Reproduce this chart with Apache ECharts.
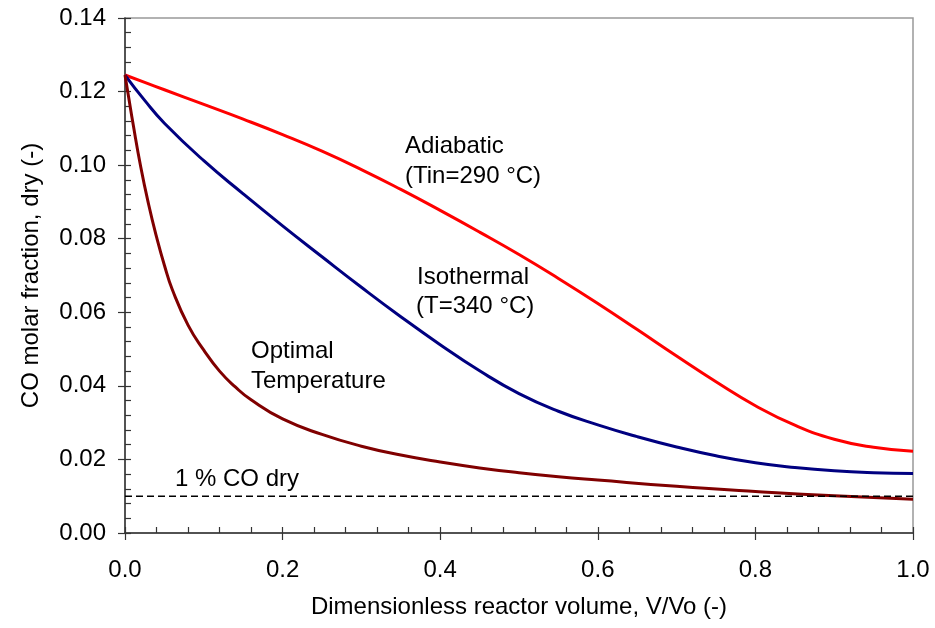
<!DOCTYPE html>
<html>
<head>
<meta charset="utf-8">
<script src="https://cdn.jsdelivr.net/npm/echarts@6/dist/echarts.min.js"></script>
<style>html,body{margin:0;padding:0;background:#fff;}#c{width:935px;height:628px;}</style>
</head>
<body>
<div id="c"></div>
<script>
// ---- data ----
const commonX      = [0, 0.025, 0.05, 0.1, 0.15, 0.2, 0.25, 0.3, 0.35, 0.4, 0.45, 0.5, 0.55, 0.6, 0.65, 0.7, 0.75, 0.8, 0.85, 0.9, 0.95, 1.0];
const adiabaticY   = [0.1245, 0.1225, 0.1205, 0.1165, 0.1125, 0.1083, 0.1038, 0.0988, 0.0934, 0.0877, 0.0818, 0.0757, 0.0692, 0.0624, 0.0553, 0.0481, 0.0411, 0.0346, 0.0293, 0.0255, 0.0233, 0.0222];
const isothermalY  = [0.1245, 0.1176, 0.1114, 0.1012, 0.0922, 0.0835, 0.0751, 0.0668, 0.0588, 0.0512, 0.0441, 0.0379, 0.0331, 0.0294, 0.0262, 0.0234, 0.0210, 0.0191, 0.0178, 0.0169, 0.0164, 0.0162];
const optimalX     = [0, 0.005, 0.01, 0.02, 0.03, 0.04, 0.05, 0.06, 0.08, 0.1, 0.12, 0.14, 0.16, 0.2, 0.25, 0.3, 0.35, 0.4, 0.45, 0.5, 0.55, 0.6, 0.7, 0.8, 0.9, 1.0];
const optimalY     = [0.1245, 0.1180, 0.1115, 0.0995, 0.0893, 0.0805, 0.0728, 0.0662, 0.0565, 0.0497, 0.0440, 0.0397, 0.0362, 0.0310, 0.0268, 0.0236, 0.0212, 0.0193, 0.0177, 0.0164, 0.0153, 0.0144, 0.0127, 0.0113, 0.0101, 0.0092];
const limitX       = [0, 1];
const limitY       = [0.01, 0.01];
const xTicks       = {min: 0, max: 1, interval: 0.2};
const yTicks       = {min: 0, max: 0.14, interval: 0.02};
const xTitle = 'Dimensionless reactor volume, V/Vo (-)';
const yTitle = 'CO molar fraction, dry (-)';

const zip = (xs, ys) => xs.map((x, i) => [x, ys[i]]);
const FONT = '"Liberation Sans", Arial, sans-serif';
const FS = 24;
const chart = echarts.init(document.getElementById('c'), null, {renderer: 'canvas'});

const axisCommonMain = (ticks, fmtDigits) => ({
  type: 'value', min: ticks.min, max: ticks.max, interval: ticks.interval,
  splitLine: {show: false},
  axisLine: {show: true, lineStyle: {color: '#333', width: 1.5}},
  axisTick: {show: true, inside: false, length: 7, lineStyle: {color: '#333', width: 1.2}},
  axisLabel: {color: '#000', fontSize: FS, fontFamily: FONT, formatter: v => v.toFixed(fmtDigits)}
});
const axisCommonMinor = (ticks) => ({
  type: 'value', min: ticks.min, max: ticks.max, interval: ticks.interval,
  splitLine: {show: false},
  axisLine: {show: false},
  axisLabel: {show: false},
  axisTick: {show: true, inside: true, length: 6, lineStyle: {color: '#333', width: 1.2}},
  minorTick: {show: true, splitNumber: 5, length: 6, lineStyle: {color: '#333', width: 1.2}}
});

const xMain = axisCommonMain(xTicks, 1);
Object.assign(xMain, {
  position: 'bottom', name: xTitle, nameLocation: 'middle', nameGap: 62,
  nameTextStyle: {color: '#000', fontSize: FS, fontFamily: FONT}
});
xMain.axisLabel.margin = 25;
const yMain = axisCommonMain(yTicks, 2);
Object.assign(yMain, {
  position: 'left', name: yTitle, nameLocation: 'middle', nameGap: 82,
  nameTextStyle: {color: '#000', fontSize: FS, fontFamily: FONT}
});
yMain.axisLabel.margin = 19;
const xMinor = Object.assign(axisCommonMinor(xTicks), {position: 'bottom'});
const yMinor = Object.assign(axisCommonMinor(yTicks), {position: 'left'});

const lineSeries = (name, data, color) => ({
  name, type: 'line', data, xAxisIndex: 0, yAxisIndex: 0,
  showSymbol: false, smooth: 0.5,
  lineStyle: {color, width: 3}, z: 3
});

const txt = (text, left, top) => ({
  type: 'text', left, top,
  style: {text, fill: '#000', font: FS + 'px ' + FONT}
});

chart.setOption({
  animation: false,
  backgroundColor: '#fff',
  grid: {left: 125, right: 22, top: 18, bottom: 95, show: true, borderColor: '#999', borderWidth: 1.5, backgroundColor: 'transparent'},
  xAxis: [xMain, xMinor],
  yAxis: [yMain, yMinor],
  series: [
    lineSeries('Adiabatic', zip(commonX, adiabaticY), '#ff0000'),
    lineSeries('Isothermal', zip(commonX, isothermalY), '#000080'),
    lineSeries('Optimal Temperature', zip(optimalX, optimalY), '#800000'),
    {
      name: '1 % CO dry', type: 'line', data: zip(limitX, limitY), showSymbol: false,
      lineStyle: {color: '#000', width: 1.5, type: [7, 4]}, z: 4
    }
  ],
  graphic: [
    txt('Adiabatic', 405, 134),
    txt('(Tin=290 °C)', 405, 164),
    txt('Isothermal', 417, 265),
    txt('(T=340 °C)', 416, 294),
    txt('Optimal', 251, 339),
    txt('Temperature', 251, 369),
    txt('1 % CO dry', 175, 467)
  ]
});
</script>
</body>
</html>
